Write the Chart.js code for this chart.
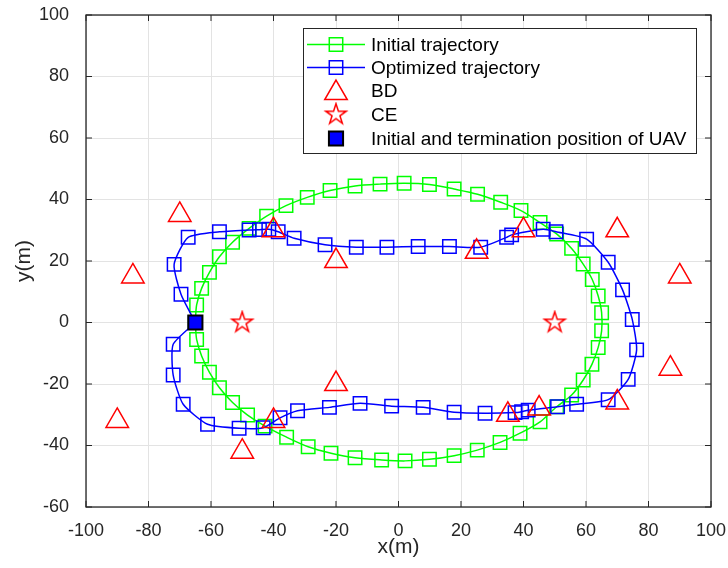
<!DOCTYPE html>
<html>
<head>
<meta charset="utf-8">
<script src="https://cdn.jsdelivr.net/npm/chart.js@4.4.0/dist/chart.umd.min.js"></script>
<style>
  html, body { margin: 0; padding: 0; background: #fff; }
  #wrap { width: 728px; height: 568px; }
</style>
</head>
<body>
<div id="wrap"><canvas id="canvas" width="728" height="568"></canvas></div>
<script>
// tick labels
var xTicks = [-100, -80, -60, -40, -20, 0, 20, 40, 60, 80, 100];
var yTicks = [-60, -40, -20, 0, 20, 40, 60, 80, 100];

// initial trajectory (green)
var initX = [-65, -64.6, -63.0, -60.5, -57.3, -53.1, -47.8, -42.2, -36.0, -29.2, -21.9, -13.9, -5.9, 1.8, 9.9, 17.8, 25.3, 32.7, 39.2, 45.3, 50.6, 55.4, 59.1, 62.0, 63.9, 65.0,
             65.0, 63.9, 61.9, 59.1, 55.4, 50.6, 45.3, 38.9, 32.5, 25.2, 17.8, 9.9, 2.1, -5.4, -13.9, -21.6, -28.9, -35.8, -42.7, -48.3, -53.1, -57.3, -60.5, -63.0, -64.6, -65];
var initY = [0, 5.7, 11.1, 16.3, 21.4, 26.1, 30.6, 34.6, 38.0, 40.7, 42.9, 44.4, 45.0, 45.3, 44.9, 43.4, 41.7, 39.1, 36.4, 32.5, 28.8, 24.1, 19.0, 14.0, 8.6, 3.2,
             -2.7, -8.1, -13.6, -18.7, -23.6, -27.4, -32.3, -36.0, -39.0, -41.5, -43.3, -44.5, -45.0, -44.7, -44.0, -42.5, -40.4, -37.3, -33.7, -30.1, -26.0, -21.2, -16.2, -10.9, -5.5, 0];

// optimized trajectory (blue)
var optX = [-65, -69.6, -71.8, -67.3, -57.3, -47.8, -44.5, -41.5, -38.5, -33.4, -23.5, -13.5, -3.7, 6.3, 16.3, 26.3, 34.6, 36.2, 46.3, 50.4, 60.2, 67.1, 71.7, 74.8, 76.2,
            73.5, 67.1, 57.0, 50.9, 41.5, 39.4, 37.3, 27.7, 17.8, 7.9, -2.2, -12.3, -22.1, -32.3, -37.9, -43.3, -51.0, -61.1, -68.9, -72.1, -72.1, -65];
var optY = [0, 9.2, 18.9, 27.7, 29.5, 30.1, 30.2, 30.3, 29.5, 27.4, 25.3, 24.5, 24.5, 24.7, 24.7, 24.5, 27.7, 28.5, 30.3, 29.5, 27.1, 19.6, 10.6, 1.0, -8.9,
            -18.5, -25.1, -26.6, -27.4, -28.5, -29.0, -29.3, -29.5, -29.2, -27.6, -27.2, -26.3, -27.6, -28.7, -31.0, -34.2, -34.4, -33.1, -26.6, -17.1, -7.1, 0];

// BD and CE positions
var bdX = [-70, -85, -90, -50, -40, -20, -20, -40, 25, 40, 70, 90, 87, 70, 45, 35];
var bdY = [35, 15, -32, -42, -32, -20, 20, 30, 23, 30, 30, 15, -15, -26, -28, -30];
var ceX = [-50, 50];
var ceY = [0, 0];

// UAV start / end
var uavX = [-65];
var uavY = [0];

var labels = ['Initial trajectory', 'Optimized trajectory', 'BD', 'CE', 'Initial and termination position of UAV'];

var FONT = '"Liberation Sans", Arial, Helvetica, sans-serif';
var AXIS = '#262626';
var GREEN = 'rgb(0, 255, 0)';
var BLUE = 'rgb(0, 0, 255)';
var RED = 'rgb(255, 0, 0)';

function toPoints(xs, ys) {
    return xs.map(function (x, i) { return { x: x, y: ys[i] }; });
}

// five pointed star marker
function starImage(R, color) {
    var c = document.createElement('canvas');
    var s = 2 * Math.ceil(R + 2);
    c.width = s; c.height = s;
    var g = c.getContext('2d');
    g.strokeStyle = color;
    g.lineWidth = 1.5;
    g.beginPath();
    for (var k = 0; k < 10; k++) {
        var r = k % 2 ? R * 0.382 : R;
        var a = -Math.PI / 2 + k * Math.PI / 5;
        var px = s / 2 + r * Math.cos(a), py = s / 2 + r * Math.sin(a);
        if (k) g.lineTo(px, py); else g.moveTo(px, py);
    }
    g.closePath();
    g.stroke();
    return c;
}
var star = starImage(10.8, RED);

function noPad(s) {
    s.paddingLeft = 0; s.paddingRight = 0; s.paddingTop = 0; s.paddingBottom = 0;
}

var framePlugin = {
    id: 'frame',
    afterDraw: function (chart) {
        var ctx = chart.ctx, a = chart.chartArea;
        var sx = chart.scales.x, sy = chart.scales.y;
        ctx.save();
        ctx.strokeStyle = AXIS;
        ctx.lineWidth = 1;
        ctx.beginPath();
        xTicks.forEach(function (v) {
            var p = sx.getPixelForValue(v);
            ctx.moveTo(p, a.bottom); ctx.lineTo(p, a.bottom - 6);
            ctx.moveTo(p, a.top); ctx.lineTo(p, a.top + 6);
        });
        yTicks.forEach(function (v) {
            var p = sy.getPixelForValue(v);
            ctx.moveTo(a.left, p); ctx.lineTo(a.left + 6, p);
            ctx.moveTo(a.right, p); ctx.lineTo(a.right - 6, p);
        });
        ctx.stroke();
        ctx.lineWidth = 1.3;
        ctx.strokeRect(a.left, a.top, a.right - a.left, a.bottom - a.top);

        // legend
        var bx = 303.5, by = 28.5, bw = 393, bh = 125;
        ctx.fillStyle = '#fff';
        ctx.fillRect(bx, by, bw, bh);
        ctx.lineWidth = 1;
        ctx.strokeStyle = AXIS;
        ctx.strokeRect(bx, by, bw, bh);
        var rows = [44.5, 67.5, 91, 114.5, 138.5];
        var mx = 336;
        chart.data.datasets.forEach(function (ds, i) {
            var y = rows[i];
            if (ds.showLine) {
                ctx.strokeStyle = ds.borderColor;
                ctx.lineWidth = 1.5;
                ctx.beginPath();
                ctx.moveTo(307, y); ctx.lineTo(365, y);
                ctx.stroke();
            }
            ctx.strokeStyle = ds.pointBorderColor;
            ctx.fillStyle = ds.pointBackgroundColor;
            ctx.lineWidth = ds.pointBorderWidth;
            Chart.helpers.drawPoint(ctx, {
                pointStyle: ds.pointStyle,
                radius: ds.pointRadius,
                rotation: 0,
                borderWidth: ds.pointBorderWidth
            }, mx, ds.pointStyle === 'triangle' ? y + 2 : y);
            ctx.fillStyle = '#000';
            ctx.font = '19px ' + FONT;
            ctx.textBaseline = 'middle';
            ctx.textAlign = 'left';
            ctx.fillText(ds.label, 371, y + 1);
        });
        ctx.restore();
    }
};

var config = {
    type: 'scatter',
    data: {
        datasets: [
            {
                label: labels[0],
                data: toPoints(initX, initY),
                showLine: true,
                borderColor: GREEN,
                borderWidth: 1.5,
                tension: 0.3,
                pointStyle: 'rect',
                pointRadius: 9.5,
                pointBorderColor: GREEN,
                pointBackgroundColor: 'rgba(0,0,0,0)',
                pointBorderWidth: 1.5,
                order: 5
            },
            {
                label: labels[1],
                data: toPoints(optX, optY),
                showLine: true,
                borderColor: BLUE,
                borderWidth: 1.5,
                tension: 0.2,
                pointStyle: 'rect',
                pointRadius: 9.5,
                pointBorderColor: BLUE,
                pointBackgroundColor: 'rgba(0,0,0,0)',
                pointBorderWidth: 1.5,
                order: 4
            },
            {
                label: labels[2],
                data: toPoints(bdX, bdY),
                showLine: false,
                pointStyle: 'triangle',
                pointRadius: 13,
                pointBorderColor: RED,
                pointBackgroundColor: 'rgba(0,0,0,0)',
                pointBorderWidth: 1.5,
                order: 3
            },
            {
                label: labels[3],
                data: toPoints(ceX, ceY),
                showLine: false,
                pointStyle: star,
                pointRadius: 10,
                pointBorderColor: RED,
                pointBackgroundColor: 'rgba(0,0,0,0)',
                pointBorderWidth: 1.5,
                order: 2
            },
            {
                label: labels[4],
                data: toPoints(uavX, uavY),
                showLine: false,
                pointStyle: 'rect',
                pointRadius: 10,
                pointBorderColor: '#000',
                pointBackgroundColor: BLUE,
                pointBorderWidth: 2,
                order: 1
            }
        ]
    },
    options: {
        responsive: false,
        animation: false,
        events: [],
        devicePixelRatio: 1,
        layout: { padding: { left: 0, right: 17, top: 15, bottom: 0 } },
        plugins: {
            legend: { display: false },
            tooltip: { enabled: false }
        },
        scales: {
            x: {
                type: 'linear',
                min: -100,
                max: 100,
                afterBuildTicks: function (s) { s.ticks = xTicks.map(function (v) { return { value: v }; }); },
                afterFit: function (s) { s.height = 61; noPad(s); },
                grid: { color: '#e3e3e3', lineWidth: 1, drawTicks: false },
                border: { display: false },
                ticks: { color: AXIS, font: { family: FONT, size: 18 }, padding: 13, maxRotation: 0 },
                title: { display: true, text: 'x(m)', color: AXIS, font: { family: FONT, size: 21 }, padding: { top: 0, bottom: 8 } }
            },
            y: {
                type: 'linear',
                min: -60,
                max: 100,
                afterBuildTicks: function (s) { s.ticks = yTicks.map(function (v) { return { value: v }; }); },
                afterFit: function (s) { s.width = 86; noPad(s); },
                grid: { color: '#e3e3e3', lineWidth: 1, drawTicks: false },
                border: { display: false },
                ticks: { color: AXIS, font: { family: FONT, size: 18 }, padding: 17 },
                title: { display: true, text: 'y(m)', color: AXIS, font: { family: FONT, size: 21 }, padding: { top: 12, bottom: 0 } }
            }
        }
    },
    plugins: [framePlugin]
};

function start() {
    var ctx = document.getElementById('canvas').getContext('2d');
    new Chart(ctx, config);
}
start();
</script>
</body>
</html>
